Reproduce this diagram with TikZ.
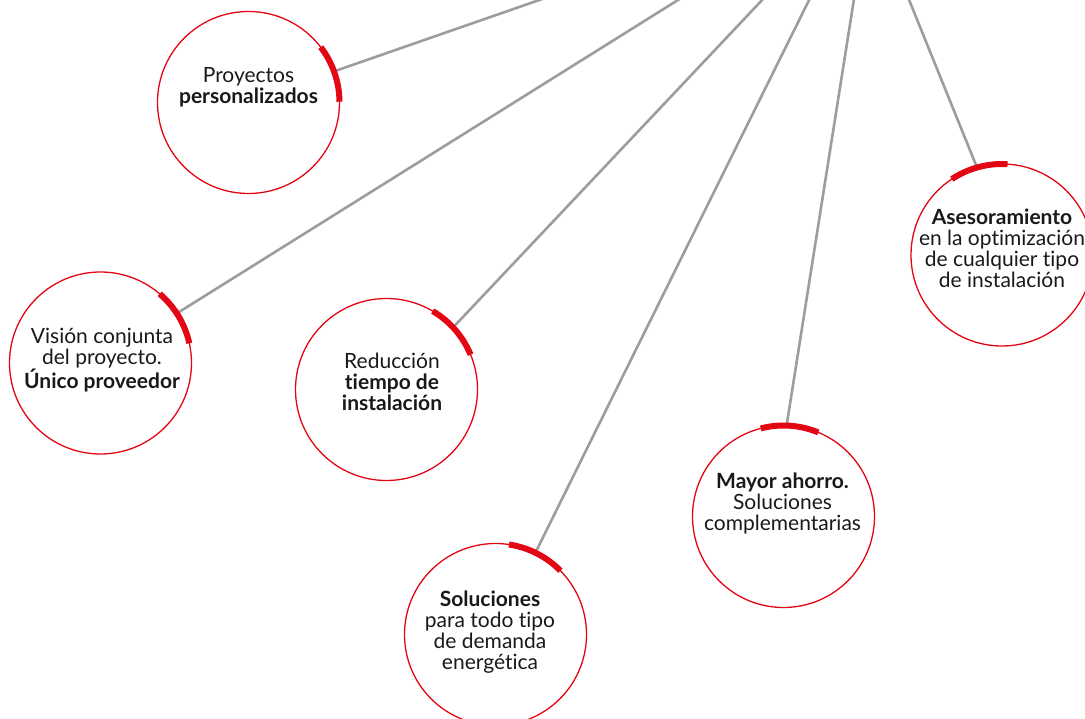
\documentclass[tikz,border=0pt]{standalone}
\usepackage{fontspec}
\setmainfont{Lato}[Ligatures=NoCommon]
\usetikzlibrary{calc}
\definecolor{bubred}{HTML}{E30613}
\definecolor{linegray}{HTML}{9D9D9D}
\newcommand\accentarc[2]{\draw[accent] ([shift={(#2-18.5:91)}]#1.center) arc[start angle=#2-18.5, end angle=#2+18.5, radius=91];}
\begin{document}
\begin{tikzpicture}[x=1pt,y=1pt,
 bubble/.style={circle,draw=bubred,line width=1.3pt,minimum size=182pt,inner sep=0pt},
 spoke/.style={draw=linegray,line width=2.6pt},
 accent/.style={draw=bubred,line width=6pt},
 lbl/.style={align=center,anchor=base,font=\fontsize{21}{21}\selectfont,text=black!90,inner sep=0pt}]
\useasboundingbox (0,0) rectangle (1085,718);
\clip (0,0) rectangle (1085,718);
% circles
\node[bubble] (c1) at (248.5,615.5) {};
\node[bubble] (c2) at (100.5,355) {};
\node[bubble] (c3) at (386.5,328.5) {};
\node[bubble] (c4) at (495.5,83.5) {};
\node[bubble] (c5) at (783.5,201.5) {};
\node[bubble] (c6) at (1002,463) {};
% free ends of spokes (above the top edge)
\coordinate (t1) at (597,738);
\coordinate (t2) at (710,738);
\coordinate (t3) at (781,738);
\coordinate (t4) at (819,738);
\coordinate (t5) at (857,738);
\coordinate (t6) at (901,738);
\draw[spoke] (c1.20) -- (t1);
\draw[spoke] (c2.33) -- (t2);
\draw[spoke] (c3.43) -- (t3);
\draw[spoke] (c4.64) -- (t4);
\draw[spoke] (c5.88) -- (t5);
\draw[spoke] (c6.106) -- (t6);
% accents
\accentarc{c1}{19}
\accentarc{c2}{31}
\accentarc{c3}{41}
\accentarc{c4}{63}
\accentarc{c5}{86}
\accentarc{c6}{105}
% labels (anchor = baseline of last line)
\node[lbl] (l1) at (248.5,614) {Proyectos\\\textbf{personalizados}};
\node[lbl] (l2) at (102,329) {Visión conjunta\\del proyecto.\\\textbf{Único proveedor}};
\node[lbl] (l3) at (392,307) {Reducción\\\textbf{tiempo de}\\\textbf{instalación}};
\node[lbl] (l4) at (490,48) {\textbf{Soluciones}\\para todo tipo\\de demanda\\energética};
\node[lbl] (l5) at (782.5,187) {\textbf{Mayor ahorro.}\\Soluciones\\complementarias};
\node[lbl] (l6) at (1002,430) {\textbf{Asesoramiento}\\en la optimización\\de cualquier tipo\\de instalación};
\end{tikzpicture}
\end{document}
